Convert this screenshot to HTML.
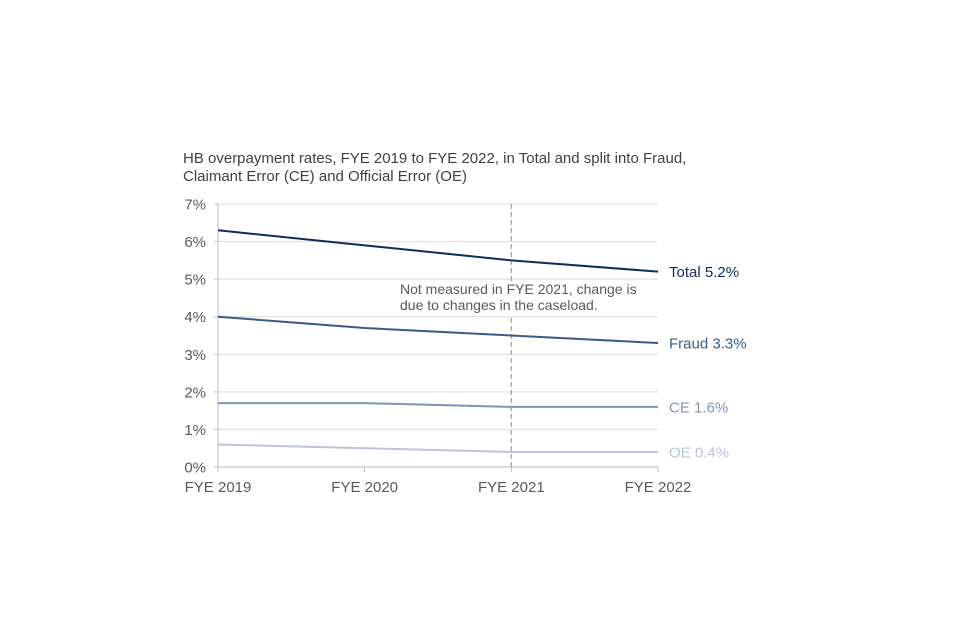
<!DOCTYPE html>
<html><head><meta charset="utf-8"><style>
body{margin:0;background:#fff;}
svg{display:block;font-family:"Liberation Sans",Arial,sans-serif;}
</style></head><body>
<svg id="c" width="960" height="640">
<text x="183" y="163" font-size="15" fill="#404040">HB overpayment rates, FYE 2019 to FYE 2022, in Total and split into Fraud,</text>
<text x="183" y="181" font-size="15" fill="#404040">Claimant Error (CE) and Official Error (OE)</text>
<g id="plot"></g>
</svg>
<script>
const categories=["FYE 2019","FYE 2020","FYE 2021","FYE 2022"];
const yTicks=[0,1,2,3,4,5,6,7];
const totalVals=[6.3,5.9,5.5,5.2];
const fraudVals=[4.0,3.7,3.5,3.3];
const ceVals=[1.7,1.7,1.6,1.6];
const oeVals=[0.6,0.5,0.4,0.4];
const seriesNames=["Total","Fraud","CE","OE"];
const seriesColors=["#0d2f57","#3b5b87","#8094b6","#bac5d8"];
const seriesData=[totalVals,fraudVals,ceVals,oeVals];
const x0=218,x1=658,y0=467,y1=204;
const xs=i=>x0+i*(x1-x0)/(categories.length-1);
const ys=v=>y0-(v/7)*(y0-y1);
const NS="http://www.w3.org/2000/svg";
const g=document.getElementById('plot');
function mk(t,a){const e=document.createElementNS(NS,t);for(const k in a)e.setAttribute(k,a[k]);g.appendChild(e);return e;}
yTicks.forEach(t=>{
  if(t>0){const l=mk('line',{x1:x0,x2:x1,y1:ys(t),y2:ys(t),stroke:'#e3e3e3','stroke-width':1.3});
  
  }
  const tk=mk('line',{x1:x0-4,x2:x0,y1:ys(t),y2:ys(t),stroke:'#bfbfbf'});
  
  
  const tx=mk('text',{x:x0-12,y:ys(t)+5.5,'text-anchor':'end','font-size':15,fill:'#595959'});
  tx.textContent=t+'%';
  
  
});
const ya=mk('line',{x1:x0,x2:x0,y1:y1,y2:y0,stroke:'#bfbfbf'});


const xa=mk('line',{x1:x0,x2:x1,y1:y0,y2:y0,stroke:'#bfbfbf'});


categories.forEach((c,i)=>{
  const tk=mk('line',{x1:xs(i),x2:xs(i),y1:y0,y2:y0+5,stroke:'#bfbfbf'});
  
  
  const tx=mk('text',{x:xs(i),y:y0+25,'text-anchor':'middle','font-size':15,fill:'#595959'});
  tx.textContent=c;
  
  
});
// dashed marker
const xm=xs(2);
[[y1,281],[318,y0]].forEach(([a,b])=>{
  const d=mk('line',{x1:xm,x2:xm,y1:a,y2:b,stroke:'#a6a6a6','stroke-width':1.3,'stroke-dasharray':'5,3'});
  
  
});
[["Not measured in FYE 2021, change is",294],["due to changes in the caseload.",310]].forEach(([s,y])=>{
  const t=mk('text',{x:400,y:y,'font-size':14,fill:'#595959'});
  t.textContent=s;
  
  
});
seriesData.forEach((vals,si)=>{
  const p=mk('polyline',{points:vals.map((v,i)=>xs(i)+','+ys(v)).join(' '),fill:'none',stroke:seriesColors[si],'stroke-width':2});
  
  
  const last=vals[vals.length-1];
  const t=mk('text',{x:x1+11,y:ys(last)+5.5,'font-size':15,fill:seriesColors[si]});
  t.textContent=seriesNames[si]+' '+last.toFixed(1)+'%';
  
  
});
</script>
</body></html>
